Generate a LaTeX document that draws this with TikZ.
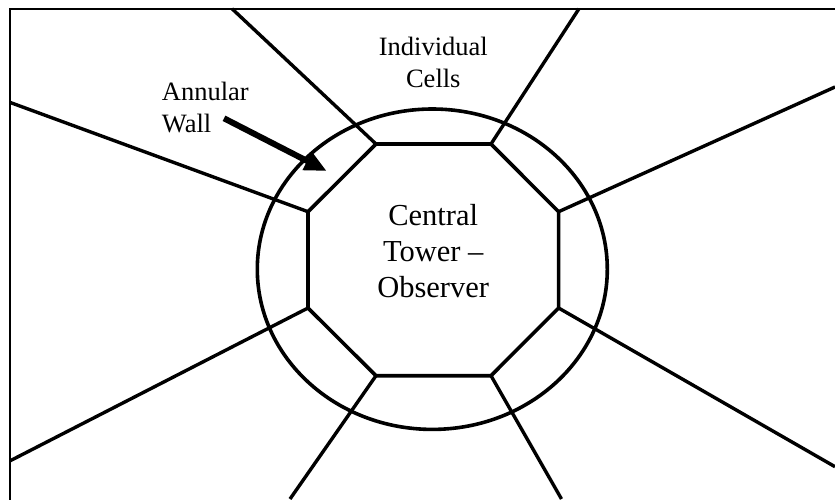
\documentclass[tikz,border=0pt]{standalone}
\usepackage{fontspec}
\setmainfont{Liberation Serif}
\usetikzlibrary{arrows.meta}
\begin{document}
\begin{tikzpicture}[x=1pt,y=-1pt,
  spoke/.style={line width=3.4pt},
  wall/.style={line width=3.6pt},
  framebox/.style={line width=2.2pt},
  lbl/.style={font=\fontsize{26.5}{32}\selectfont, inner sep=0pt},
  biglbl/.style={font=\fontsize{30.5}{36}\selectfont, inner sep=0pt, align=center}]
\useasboundingbox (0,0) rectangle (835,499);
\clip (0,0) rectangle (835,499);
% frame
\draw[framebox] (10.3,8.7) rectangle (900,560);
% octagon vertices
\coordinate (tl) at (376,144);
\coordinate (tr) at (491,144);
\coordinate (ru) at (558.6,211.7);
\coordinate (rl) at (558.6,308);
\coordinate (br) at (491,375.7);
\coordinate (bl) at (376,375.7);
\coordinate (ll) at (308,308);
\coordinate (lu) at (308,211.7);
% spoke ends
\coordinate (etl) at (232,8.7);
\coordinate (etr) at (579,8.7);
\coordinate (elu) at (10.3,102.5);
\coordinate (eru) at (835,87);
\coordinate (erl) at (835,466.7);
\coordinate (ell) at (10.3,460.7);
\coordinate (ebl) at (290,499);
\coordinate (ebr) at (561.5,499);
% annular wall
\draw[wall] (432.3,269.2) ellipse [x radius=175, y radius=160.2];
% octagon
\draw[wall, line join=miter] (tl) -- (tr) -- (ru) -- (rl) -- (br) -- (bl) -- (ll) -- (lu) -- cycle;
% spokes
\draw[spoke] (tl) -- (etl);
\draw[spoke] (tr) -- (etr);
\draw[spoke] (lu) -- (elu);
\draw[spoke] (ru) -- (eru);
\draw[spoke] (rl) -- (erl);
\draw[spoke] (ll) -- (ell);
\draw[spoke] (bl) -- (ebl);
\draw[spoke] (br) -- (ebr);
% labels
\node[lbl, align=center, anchor=base] (cells) at (433.3,87.3) {Individual\\Cells};
\node[lbl, align=left, anchor=base west] (annular) at (161.7,132.3) {Annular\\Wall};
\node[biglbl, anchor=base] (tower) at (433.2,297) {Central\\Tower –\\Observer};
% arrow
\coordinate (atail) at (224,118.3);
\coordinate (ahead) at (326.7,171);
\draw[line width=6pt, -{Triangle[length=22pt,width=19pt]}] (atail) -- (ahead);
\end{tikzpicture}
\end{document}
